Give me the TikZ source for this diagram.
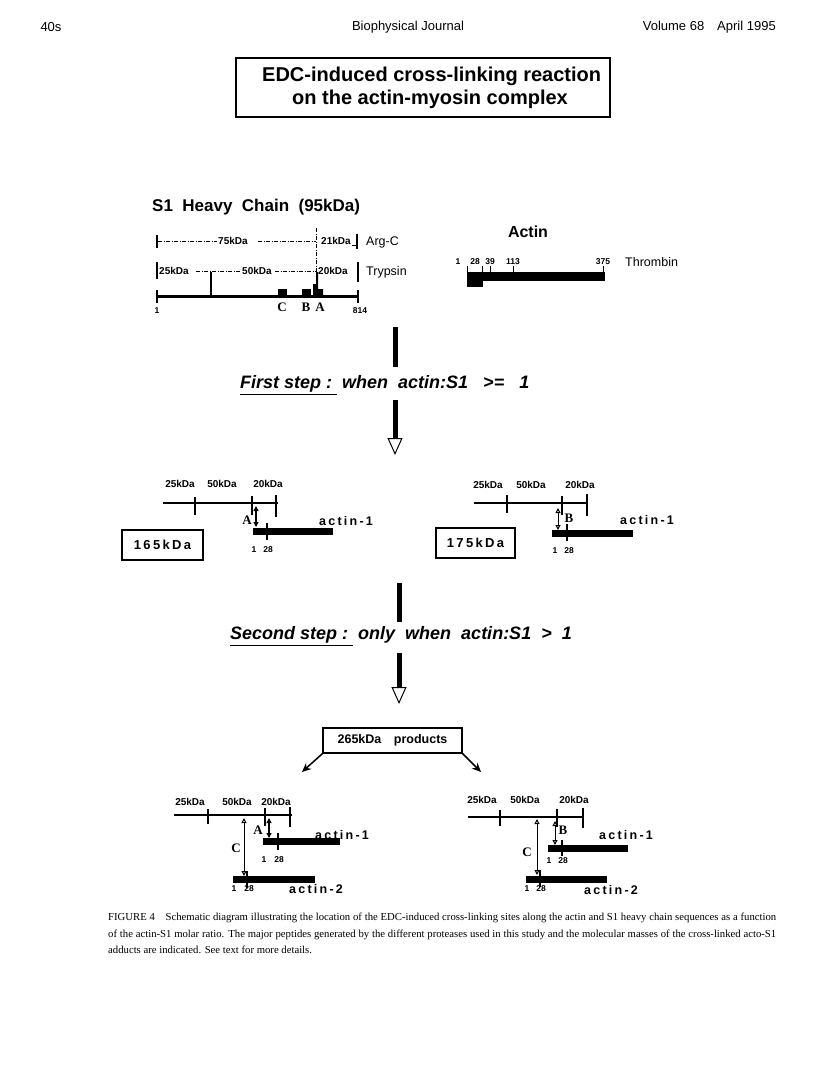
\documentclass[tikz,border=0pt]{standalone}
\usepackage{fontspec}
\setmainfont{Liberation Serif}
\setsansfont{Liberation Sans}
\newfontfamily\widebf{Liberation Sans Bold}[LetterSpace=18]
\usetikzlibrary{arrows.meta}

\newcommand{\fsz}[1]{\fontsize{#1pt}{#1pt}\selectfont}

\begin{document}
\begin{tikzpicture}[x=1pt,y=-1pt,
    hd/.style={font=\sffamily\fsz{13}, inner sep=0},
    kda/.style={font=\sffamily\bfseries\fsz{10}, inner sep=0},
    num/.style={font=\sffamily\bfseries\fsz{8.5}, inner sep=0},
    enz/.style={font=\sffamily\fsz{12.5}, inner sep=0, anchor=west},
    site/.style={font=\rmfamily\bfseries\fsz{13}, inner sep=0},
    alab/.style={font=\widebf\fsz{12.5}, inner sep=0},
    mass/.style={draw, line width=1.4pt, font=\widebf\fsz{13}, inner sep=0},
    steptext/.style={font=\sffamily\bfseries\itshape\fsz{18}, inner sep=0, anchor=west},
    chain/.style={line width=2.4pt},
    tick/.style={line width=1.4pt},
    abar/.style={line width=7pt},
    dd/.style={line width=.9pt, dash pattern=on 4pt off 1.5pt on 1pt off 1.5pt},
    stepbar/.style={line width=5pt},
    steparr/.style={line width=5pt, -{Triangle[open, length=17pt, width=15pt, line width=1pt]}},
    xl/.style={line width=1.2pt, {Triangle[length=5pt, width=5pt]}-{Triangle[length=5pt, width=5pt]}},
    xlo/.style={line width=1pt, {Triangle[open, length=5pt, width=5pt]}-{Triangle[open, length=5pt, width=5pt]}},
    diag/.style={line width=1.5pt, -{Stealth[length=9pt, width=8pt]}}]

    \fill[white] (0,0) rectangle (816,1076);
    \useasboundingbox (0,0) rectangle (816,1076);

    % page header
    \node[hd] (pg) at (51,27) {40s};
    \node[hd] (jn) at (408,27) {Biophysical Journal};
    \node[hd, anchor=east] (vol) at (776,27) {Volume 68\quad April 1995};

    % title
    \node[draw, line width=1.8pt, minimum width=374pt, minimum height=59pt] (tbox) at (423,87.5) {};
    \node[font=\sffamily\bfseries\fsz{20}, inner sep=0, anchor=west] (t1) at (262,76) {EDC-induced\ cross-linking\ reaction};
    \node[font=\sffamily\bfseries\fsz{20}, inner sep=0, anchor=west] (t2) at (292,99) {on\ the\ actin-myosin\ complex};

    % S1 heavy chain
    \node[font=\sffamily\bfseries\fsz{17}, inner sep=0, anchor=west] (s1) at (152,207) {S1\ \ Heavy\ \ Chain\ \ (95kDa)};

    \draw[tick] (157,235) -- (157,248);
    \draw[dd] (158,241.5) -- (217,241.5);
    \node[kda, anchor=west] (k75) at (218,241) {75kDa};
    \draw[dd] (258,241.5) -- (316,241.5);
    \draw[dd] (316,228) -- (316,290);
    \node[kda, anchor=west] (k21) at (321,241) {21kDa};
    \draw[line width=.9pt] (352,245) -- (357,245);
    \draw[tick] (357,234) -- (357,249);
    \node[enz] (argc) at (366,242) {Arg-C};

    \draw[tick] (157,262) -- (157,279);
    \node[kda, anchor=west] (k25) at (159,271) {25kDa};
    \draw[dd] (196,271.5) -- (241,271.5);
    \draw[tick] (211,272) -- (211,296);
    \node[kda, anchor=west] (k50) at (242,271) {50kDa};
    \draw[dd] (275,271.5) -- (316,271.5);
    \node[kda, anchor=west] (k20) at (318,271) {20kDa};
    \draw[tick] (358,262) -- (358,282);
    \node[enz] (tryp) at (366,272) {Trypsin};

    \draw[chain] (157,296.5) -- (358,296.5);
    \draw[tick] (157,290) -- (157,303);
    \draw[tick] (358,290) -- (358,303);
    \fill (278,289) rectangle (287,297);
    \fill (302,289) rectangle (311,297);
    \fill (313,297) -- (313,284) -- (316,284) -- (316,272) -- (318,272) -- (318,289) -- (323,289) -- (323,297) -- cycle;
    \node[site] (sC) at (282,307) {C};
    \node[site] (sB) at (306,307) {B};
    \node[site] (sA) at (320,307) {A};
    \node[num] (n1) at (157,311) {1};
    \node[num] (n814) at (360,311) {814};

    % actin
    \node[font=\sffamily\bfseries\fsz{16}, inner sep=0] (act) at (528,232) {Actin};
    \fill (467,271.5) rectangle (605,280.5);
    \fill (467,280) rectangle (483,287);
    \foreach \x in {467,482,490,513,603}
        \draw[line width=1pt] (\x,266) -- (\x,272);
    \foreach \x/\n in {458/1,475/28,490/39,513/113,603/375}
        \node[num] at (\x,262) {\n};
    \node[enz] (thr) at (625,262) {Thrombin};

    % first step
    \coordinate (b1a) at (395,327);
    \coordinate (b1b) at (395,367);
    \draw[stepbar] (b1a) -- (b1b);
    \node[steptext] (st1) at (240,385) {\underline{First\ step\ :\ }\ when\ \ actin:S1\ \ \ >=\ \ \ 1};
    \coordinate (r1a) at (395,400);
    \coordinate (r1b) at (395,455);
    \draw[steparr] (r1a) -- (r1b);

    % 165kDa adduct
    \foreach \x/\n in {180/25kDa,222/50kDa,268/20kDa}
        \node[kda] at (\x,484) {\n};
    \draw[chain] (163,503) -- (278,503);
    \draw[tick] (195,497) -- (195,515);
    \draw[tick] (252,496) -- (252,515);
    \draw[tick] (276,495) -- (276,517);
    \draw[abar] (253,531.5) -- (333,531.5);
    \draw[tick] (267,523) -- (267,540);
    \draw[xl] (256,506) -- (256,527);
    \node[site] (a1) at (247,520) {A};
    \node[num] at (254,550) {1};
    \node[num] at (268,550) {28};
    \node[alab] (ac1) at (346,521) {actin-1};
    \node[mass, minimum width=81pt, minimum height=30pt] (m165) at (162.5,545) {165kDa};

    % 175kDa adduct
    \foreach \x/\n in {488/25kDa,531/50kDa,580/20kDa}
        \node[kda] at (\x,485) {\n};
    \draw[chain] (474,503) -- (588,503);
    \draw[tick] (507,495) -- (507,513);
    \draw[tick] (562,496) -- (562,515);
    \draw[tick] (587,494) -- (587,516);
    \draw[abar] (552,533) -- (633,533);
    \draw[tick] (567,524) -- (567,541);
    \draw[xlo] (558,508) -- (558,530);
    \node[site] (b1) at (569,518) {B};
    \node[num] at (555,551) {1};
    \node[num] at (569,551) {28};
    \node[alab] (ac2) at (647,520) {actin-1};
    \node[mass, minimum width=79pt, minimum height=30pt] (m175) at (475.5,543) {175kDa};

    % second step
    \coordinate (b2a) at (399,583);
    \coordinate (b2b) at (399,622);
    \draw[stepbar] (b2a) -- (b2b);
    \node[steptext] (st2) at (230,636) {\underline{Second\ step\ :\ }\ only\ \ when\ \ actin:S1\ \ >\ \ 1};
    \coordinate (r2a) at (399,653);
    \coordinate (r2b) at (399,704);
    \draw[steparr] (r2a) -- (r2b);

    \node[mass, font=\sffamily\bfseries\fsz{12.5}, minimum width=139pt, minimum height=25pt] (prod) at (392.5,740.5) {265kDa\quad products};
    \coordinate (pl) at (302,772);
    \coordinate (pr) at (481,772);
    \draw[diag] (prod.south west) -- (pl);
    \draw[diag] (prod.south east) -- (pr);

    % 265kDa, left
    \foreach \x/\n in {190/25kDa,237/50kDa,276/20kDa}
        \node[kda] at (\x,802) {\n};
    \draw[chain] (174,815) -- (292,815);
    \draw[tick] (208,809) -- (208,824);
    \draw[tick] (265,808) -- (265,826);
    \draw[tick] (290,807) -- (290,827);
    \draw[abar] (263,841.5) -- (340,841.5);
    \draw[tick] (278,833) -- (278,850);
    \draw[abar] (233,879.5) -- (315,879.5);
    \draw[tick] (247,871) -- (247,888);
    \draw[xl] (269,818) -- (269,838);
    \draw[xlo] (244,818) -- (244,876);
    \node[site] (a2) at (258,830) {A};
    \node[site] (c1) at (236,848) {C};
    \node[num] at (264,860) {1};
    \node[num] at (279,860) {28};
    \node[num] at (234,889) {1};
    \node[num] at (249,889) {28};
    \node[alab] (ac3) at (342,835) {actin-1};
    \node[alab] (ac4) at (316,889) {actin-2};

    % 265kDa, right
    \foreach \x/\n in {482/25kDa,525/50kDa,574/20kDa}
        \node[kda] at (\x,800) {\n};
    \draw[chain] (468,817) -- (583,817);
    \draw[tick] (500,810) -- (500,826);
    \draw[tick] (557,809) -- (557,827);
    \draw[tick] (583,808) -- (583,828);
    \draw[abar] (548,848.5) -- (628,848.5);
    \draw[tick] (562,840) -- (562,856);
    \draw[abar] (526,879) -- (607,879);
    \draw[tick] (540,870) -- (540,887);
    \draw[xlo] (555,821) -- (555,845);
    \draw[xlo] (537,819) -- (537,875);
    \node[site] (b2) at (563,830) {B};
    \node[site] (c2) at (527,852) {C};
    \node[num] at (549,861) {1};
    \node[num] at (563,861) {28};
    \node[num] at (527,889) {1};
    \node[num] at (541,889) {28};
    \node[alab] (ac5) at (626,835) {actin-1};
    \node[alab] (ac6) at (611,890) {actin-2};

    % caption
    \node[anchor=north west, inner sep=0, text width=668pt, align=justify,
          font=\rmfamily\fontsize{10.7pt}{16.5pt}\selectfont] (cap) at (108,913)
        {FIGURE 4\quad Schematic diagram illustrating the location of the EDC-induced cross-linking sites along the actin and S1 heavy chain sequences as a function\linebreak
         of the actin-S1 molar ratio. The major peptides generated by the different proteases used in this study and the molecular masses of the cross-linked acto-S1\linebreak
         adducts are indicated. See text for more details.};
\end{tikzpicture}
\end{document}
